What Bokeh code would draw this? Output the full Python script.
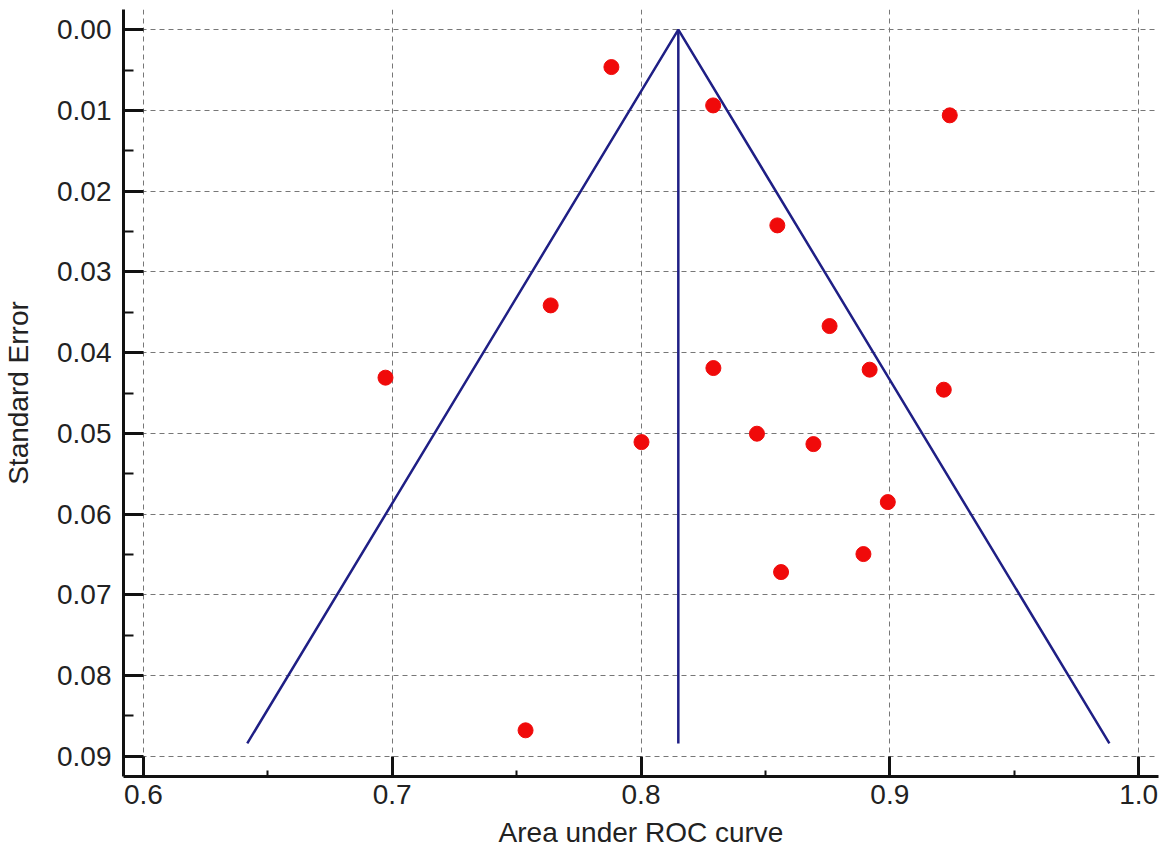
from bokeh.plotting import figure
from bokeh.models import Range1d, FixedTicker, PrintfTickFormatter, ColumnDataSource
from bokeh.embed import file_html
from bokeh.resources import INLINE

# Study-level AUC estimates and their standard errors
auc = [0.7881, 0.8290, 0.9241, 0.8548, 0.7637, 0.8758, 0.6973, 0.8291, 0.8919,
       0.9217, 0.8002, 0.8466, 0.8693, 0.8992, 0.8894, 0.8563, 0.7536]
se = [0.00463, 0.00938, 0.01061, 0.02424, 0.03415, 0.03671, 0.04310, 0.04191, 0.04211,
      0.04459, 0.05108, 0.05004, 0.05133, 0.05851, 0.06495, 0.06718, 0.08678]

# Pooled estimate and pseudo 95% confidence limits of the funnel
pooled_auc = 0.815
funnel_se_max = 0.0884
z = 1.96

x_ticks = [0.6, 0.7, 0.8, 0.9, 1.0]
x_minor = [0.65, 0.75, 0.85, 0.95]
y_ticks = [0.00, 0.01, 0.02, 0.03, 0.04, 0.05, 0.06, 0.07, 0.08, 0.09]
y_minor = [0.005, 0.015, 0.025, 0.035, 0.045, 0.055, 0.065, 0.075, 0.085]

FONT = "Liberation Sans"
NAVY = "#1f1f85"

p = figure(width=1166, height=856, output_backend="svg", toolbar_location=None,
           x_range=Range1d(0.592, 1.008), y_range=Range1d(0.0925, -0.0025),
           min_border_left=123, min_border_right=8, min_border_top=9, min_border_bottom=80)
p.outline_line_color = None
p.background_fill_color = "white"
p.border_fill_color = "white"

# funnel sides and pooled line
left_edge = pooled_auc - z * funnel_se_max
right_edge = pooled_auc + z * funnel_se_max
p.line([left_edge, pooled_auc, right_edge], [funnel_se_max, 0.0, funnel_se_max],
       line_color=NAVY, line_width=2.5)
p.line([pooled_auc, pooled_auc], [0.0, funnel_se_max], line_color=NAVY, line_width=2.5)

src = ColumnDataSource(dict(x=auc, y=se))
p.scatter("x", "y", source=src, size=15, fill_color="#f00a0a", line_color="#f00a0a")

for ax in (p.xaxis[0], p.yaxis[0]):
    ax.axis_line_width = 3
    ax.axis_line_color = "#111111"
    ax.major_tick_line_width = 3
    ax.major_tick_line_color = "#111111"
    ax.minor_tick_line_width = 2
    ax.minor_tick_line_color = "#111111"
    ax.major_tick_in = 20
    ax.major_tick_out = 0
    ax.minor_tick_out = 0
    ax.major_label_text_font = FONT
    ax.major_label_text_font_size = "28px"
    ax.major_label_text_color = "#222222"
    ax.axis_label_text_font = FONT
    ax.axis_label_text_font_size = "28px"
    ax.axis_label_text_font_style = "normal"
    ax.axis_label_text_color = "#222222"

p.xaxis.ticker = FixedTicker(ticks=x_ticks, minor_ticks=x_minor)
p.xaxis.formatter = PrintfTickFormatter(format="%.1f")
p.xaxis.minor_tick_in = 6
p.xaxis.major_label_standoff = 8
p.xaxis.axis_label = "Area under ROC curve"
p.xaxis.axis_label_standoff = 10

p.yaxis.ticker = FixedTicker(ticks=y_ticks, minor_ticks=y_minor)
p.yaxis.formatter = PrintfTickFormatter(format="%.2f")
p.yaxis.minor_tick_in = 10
p.yaxis.major_label_standoff = 12
p.yaxis.axis_label = "Standard Error"
p.yaxis.axis_label_standoff = 20

for g in (p.xgrid[0], p.ygrid[0]):
    g.grid_line_color = "#777777"
    g.grid_line_width = 1
    g.grid_line_dash = "5 4"

open("out.html", "w").write(file_html(p, INLINE))
